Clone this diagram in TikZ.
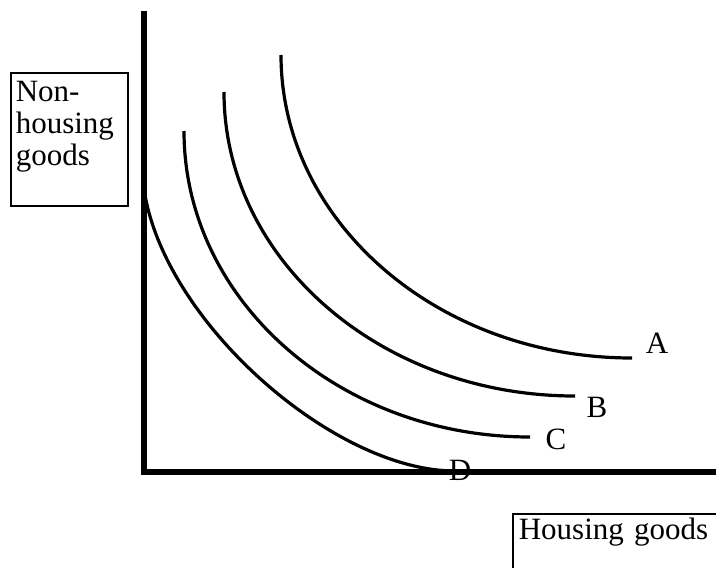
\documentclass[tikz,border=0pt]{standalone}
\usepackage{fontspec}
\setmainfont{Liberation Serif}
\usetikzlibrary{positioning}
\tikzset{
  axisline/.style={line width=3.3pt, draw=black},
  indiff/.style={line width=1.6pt, draw=black},
  axisbox/.style={
    rectangle,
    draw=black,
    line width=0.8pt,
    align=left,
    inner xsep=2.5pt,
    inner ysep=4pt,
    font=\fontsize{15.5}{16}\selectfont
  },
  curvelabel/.style={inner sep=0pt, font=\fontsize{15.5}{16}\selectfont}
}
\begin{document}
\begin{tikzpicture}[x=0.5pt, y=-0.5pt]
  \clip (0,0) rectangle (716,567);

  \coordinate (origin) at (144,472);
  \coordinate (ytop) at (144,11);
  \coordinate (xend) at (716,472);

  % axes
  \draw[axisline] (ytop) -- (origin) -- (xend);

  % indifference curves
  \draw[indiff] (281,55) .. controls (281,222) and (438,358) .. (632,358);
  \draw[indiff] (224,92) .. controls (224,260) and (381,396) .. (575,396);
  \draw[indiff] (184,131) .. controls (184,300) and (339,437) .. (530,437);
  \draw[indiff] (145,195) .. controls (168,325) and (335,471) .. (455,471);

  \node[curvelabel] (labA) at (657,343) {A};
  \node[curvelabel] (labB) at (597,407) {B};
  \node[curvelabel] (labC) at (556,439) {C};
  \node[curvelabel] (labD) at (460,470) {D};

  \node[axisbox, anchor=north west, text width=53.5pt, text depth=48.5pt] (ylab) at (10,72) {Non-\\housing\\goods};
  \node[axisbox, anchor=north west, inner xsep=3pt, inner ysep=2pt, text width=110pt, text depth=30pt] (xlab) at (512,513) {Housing goods};
\end{tikzpicture}
\end{document}
